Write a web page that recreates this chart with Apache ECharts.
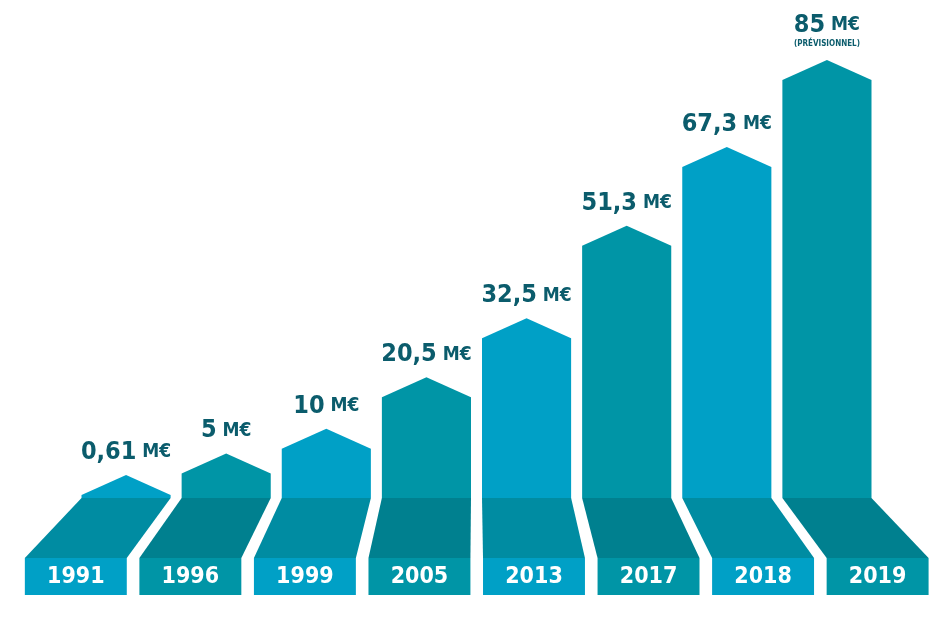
<!DOCTYPE html>
<html><head><meta charset="utf-8">
<script src="https://cdn.jsdelivr.net/npm/echarts@6/dist/echarts.min.js"></script>
<style>html,body{margin:0;padding:0;background:#fff}#c{width:950px;height:618px}</style>
</head><body><div id="c"></div>
<script>
const years = ['1991','1996','1999','2005','2013','2017','2018','2019'];
const values = [0.61, 5, 10, 20.5, 32.5, 51.3, 67.3, 85];
const valueLabels = ['0,61','5','10','20,5','32,5','51,3','67,3','85'];
const notes = ['','','','','','','','(PRÉVISIONNEL)'];

const LIGHT = '#00A0C6', TEAL = '#0095A6';
const BASE_L = '#008CA2', BASE_T = '#00808F';
const FONT = '"Liberation Sans Narrow","DejaVu Sans Condensed","Roboto",sans-serif';

const chart = echarts.init(document.getElementById('c'));
chart.setOption({
  animation: false,
  grid: {left: 76, right: 73, top: 80, bottom: 120},
  xAxis: {type: 'category', data: years, show: false},
  yAxis: {type: 'value', min: 0, max: 85, show: false},
  series: [{
    type: 'custom',
    data: values.map((v, i) => [i, v]),
    renderItem: function (params, api) {
      const i = api.value(0), v = api.value(1);
      const c = api.coord([i, v]);
      const y0 = api.coord([i, 0])[1];
      const bw = api.size([1, 0])[0] * 0.89;
      const x1 = c[0] - bw / 2, x2 = c[0] + bw / 2;
      const ys = Math.min(c[1], y0 - 2);
      const peak = ys - 20;
      const light = i % 2 === 0;
      const col = light ? LIGHT : TEAL;
      const mid = 475, k = 1.144, yb = y0 + 60;
      const bx1 = mid + (x1 - mid) * k, bx2 = mid + (x2 - mid) * k;
      const children = [
        {type: 'polygon', shape: {points: [[x1, y0], [x1, ys], [c[0], peak], [x2, ys], [x2, y0]]}, style: {fill: col}},
        {type: 'polygon', shape: {points: [[x1, y0], [x2, y0], [bx2, yb], [bx1, yb]]}, style: {fill: light ? BASE_L : BASE_T}},
        {type: 'rect', shape: {x: bx1, y: yb, width: bx2 - bx1, height: 37}, style: {fill: col}},
        {type: 'text', style: {text: years[i], x: (bx1 + bx2) / 2, y: yb + 19, align: 'center', verticalAlign: 'middle', fill: '#fff', font: 'bold 23px ' + FONT}},
        {type: 'text', style: {
          text: '{n|' + valueLabels[i] + '}{m| M€}', x: c[0], y: peak - (notes[i] ? 22 : 10), align: 'center', verticalAlign: 'bottom',
          rich: {n: {fill: '#0B5C6C', font: 'bold 25px ' + FONT}, m: {fill: '#0B5C6C', font: 'bold 19px ' + FONT}}
        }}
      ];
      if (notes[i]) children.push({type: 'text', style: {text: notes[i], x: c[0], y: peak - 12, align: 'center', verticalAlign: 'bottom', fill: '#0B5C6C', font: 'bold 8px ' + FONT}});
      return {type: 'group', children: children};
    }
  }]
});
</script></body></html>
